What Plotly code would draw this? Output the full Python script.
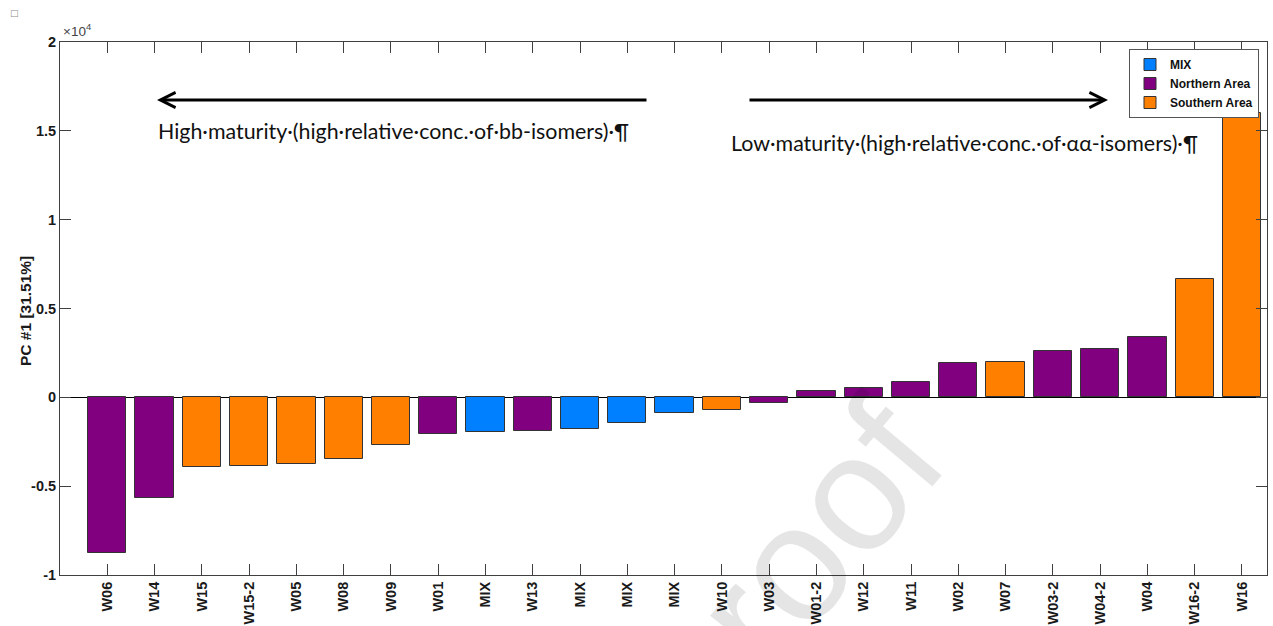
import plotly.graph_objects as go

# ---- data ----
labels = ["W06", "W14", "W15", "W15-2", "W05", "W08", "W09", "W01", "MIX", "W13",
          "MIX", "MIX", "MIX", "W10", "W03", "W01-2", "W12", "W11", "W02", "W07",
          "W03-2", "W04-2", "W04", "W16-2", "W16"]
values = [-8750, -5690, -3940, -3880, -3750, -3490, -2700, -2080, -1930, -1910,
          -1780, -1460, -880, -700, -300, 380, 550, 840, 1930, 1990,
          2600, 2700, 3380, 6650, 16000]
groups = ["N", "N", "S", "S", "S", "S", "S", "N", "M", "N",
          "M", "M", "M", "S", "N", "N", "N", "N", "N", "S",
          "N", "N", "N", "S", "S"]
group_names = {"M": "MIX", "N": "Northern Area", "S": "Southern Area"}
group_colors = {"M": "#0080FF", "N": "#800080", "S": "#FF8000"}
y_tickvals = [-10000, -5000, 0, 5000, 10000, 15000, 20000]
y_ticktext = ["-1", "-0.5", "0", "0.5", "1", "1.5", "2"]

W, H = 1273, 626
ML, MR, MT, MB = 60, 6, 42, 51
PW, PH = W - ML - MR, H - MT - MB


def px(x):
    return (x - ML) / PW


def py(y):
    return (H - MB - y) / PH


fig = go.Figure()
for g in ["M", "N", "S"]:
    idx = [i for i, gg in enumerate(groups) if gg == g]
    fig.add_trace(go.Bar(
        x=idx, y=[values[i] for i in idx], name=group_names[g],
        width=0.81, marker=dict(color=group_colors[g], line=dict(color="#333333", width=1)),
    ))

tickfont = dict(family="Liberation Sans", size=14.5, color="#1a1a1a", weight="bold")
axis_common = dict(showline=True, linecolor="#404040", linewidth=1, mirror="allticks",
                   ticks="inside", ticklen=11, tickcolor="#404040", tickwidth=1,
                   showgrid=False, tickfont=tickfont, automargin=False)

fig.update_xaxes(range=[-1, 24.53], tickmode="array", tickvals=list(range(len(labels))),
                 ticktext=labels, tickangle=-90, zeroline=False, **axis_common)
fig.update_yaxes(range=[-10000, 20000], tickmode="array", tickvals=y_tickvals,
                 ticktext=y_ticktext, zeroline=True, zerolinecolor="#000000",
                 zerolinewidth=1, **axis_common)

ann = []
# watermark (semi-transparent so that labels stay dark)
ann.append(dict(xref="paper", yref="paper", x=px(788), y=py(570), xanchor="center", yanchor="middle",
                text="proof", textangle=-50, showarrow=False,
                font=dict(family="Liberation Sans", size=165, color="rgba(0,0,0,0.10)")))
# y axis label
ann.append(dict(xref="paper", yref="paper", x=px(25), y=py(311), xanchor="center", yanchor="middle",
                text="PC #1 [31.51%]", textangle=-90, showarrow=False,
                font=dict(family="Liberation Sans", size=15.5, color="#1a1a1a", weight="bold")))
# exponent
ann.append(dict(xref="paper", yref="paper", x=px(61), y=py(41), xanchor="left", yanchor="bottom",
                text="×10<sup>4</sup>", showarrow=False,
                font=dict(family="Liberation Sans", size=13.5, color="#444444")))
# small square
ann.append(dict(xref="paper", yref="paper", x=px(14), y=py(13), xanchor="center", yanchor="middle",
                text="□", showarrow=False,
                font=dict(family="DejaVu Sans", size=9, color="#888888")))
# arrows
ann.append(dict(xref="paper", yref="paper", x=px(157), y=py(100), ax=648 - 157, ay=0,
                showarrow=True, arrowhead=5, arrowwidth=3, arrowsize=1, arrowcolor="#000000", text=""))
ann.append(dict(xref="paper", yref="paper", x=px(1108), y=py(100), ax=748 - 1108, ay=0,
                showarrow=True, arrowhead=5, arrowwidth=3, arrowsize=1, arrowcolor="#000000", text=""))
txtfont = dict(family="Lato", size=21.4, color="#111111")
ann.append(dict(xref="paper", yref="paper", x=px(156), y=py(131), xanchor="left", yanchor="middle",
                text="High·maturity·(high·relative·conc.·of·bb-isomers)·¶", showarrow=False, font=txtfont))
ann.append(dict(xref="paper", yref="paper", x=px(729), y=py(143), xanchor="left", yanchor="middle",
                text="Low·maturity·(high·relative·conc.·of·αα-isomers)·¶", showarrow=False, font=txtfont))

fig.update_layout(
    width=W, height=H, margin=dict(l=ML, r=MR, t=MT, b=MB, autoexpand=False),
    paper_bgcolor="white", plot_bgcolor="white",
    barmode="overlay", bargap=0,
    annotations=ann,
    legend=dict(x=px(1259), y=py(49), xanchor="right", yanchor="top",
                bgcolor="white", bordercolor="#555555", borderwidth=1,
                font=dict(family="Liberation Sans", size=12, color="#111111", weight="bold"),
                tracegroupgap=0, itemwidth=30),
    showlegend=True,
)

fig.write_html("out.html")
